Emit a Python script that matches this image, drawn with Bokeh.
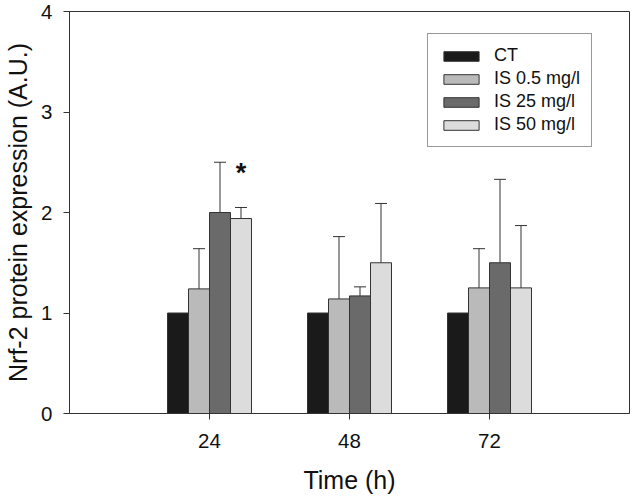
from bokeh.plotting import figure
from bokeh.models import ColumnDataSource, FixedTicker, Whisker, Range1d, Legend, LegendItem, Label
from bokeh.embed import file_html
from bokeh.resources import INLINE

# ---- data ----
times = [24, 48, 72]
series = ["CT", "IS 0.5 mg/l", "IS 25 mg/l", "IS 50 mg/l"]
means = {
    "CT":          [1.00, 1.00, 1.00],
    "IS 0.5 mg/l": [1.24, 1.14, 1.25],
    "IS 25 mg/l":  [2.00, 1.17, 1.50],
    "IS 50 mg/l":  [1.94, 1.50, 1.25],
}
errors = {
    "CT":          [0.00, 0.00, 0.00],
    "IS 0.5 mg/l": [0.40, 0.62, 0.39],
    "IS 25 mg/l":  [0.50, 0.09, 0.83],
    "IS 50 mg/l":  [0.11, 0.59, 0.62],
}
y_ticks = [0, 1, 2, 3, 4]
significant = [("IS 50 mg/l", 0)]  # (series, time index) marked with *

# ---- styles ----
colors = {"CT": "#1a1a1a", "IS 0.5 mg/l": "#bababa", "IS 25 mg/l": "#6a6a6a", "IS 50 mg/l": "#dcdcdc"}
FONT = "Liberation Sans"
EDGE = "#333333"
bar_w = 3.6
offsets = [-1.5 * bar_w, -0.5 * bar_w, 0.5 * bar_w, 1.5 * bar_w]

p = figure(width=632, height=499, output_backend="svg", toolbar_location=None,
           x_range=Range1d(0, 96), y_range=Range1d(0, 4),
           min_border_left=69, min_border_right=3, min_border_top=11, min_border_bottom=86)
p.grid.visible = False
p.outline_line_color = EDGE
p.outline_line_width = 1
p.background_fill_color = "white"
p.border_fill_color = "white"

items = []
for s, off in zip(series, offsets):
    xs = [t + off for t in times]
    top = means[s]
    upper = [m + e for m, e in zip(top, errors[s])]
    src = ColumnDataSource(dict(x=xs, top=top, upper=upper))
    r = p.vbar(x="x", top="top", width=bar_w, source=src, fill_color=colors[s],
               line_color=EDGE, line_width=1)
    items.append(LegendItem(label=s, renderers=[r]))
    if any(e > 0 for e in errors[s]):
        w = Whisker(base="x", lower="top", upper="upper", source=src, dimension="height",
                    line_color=EDGE, line_width=1)
        w.lower_head = None
        w.upper_head.size = 12
        w.upper_head.line_color = EDGE
        w.upper_head.line_width = 1
        p.add_layout(w)

for s, i in significant:
    xi = times[i] + offsets[series.index(s)]
    yi = means[s][i] + errors[s][i] + 0.34
    p.add_layout(Label(x=xi, y=yi, text="*", text_font=FONT, text_font_style="bold",
                       text_font_size="27px", text_align="center", text_baseline="alphabetic",
                       text_color="#111111"))

legend = Legend(items=items, location=(358, 266))
legend.label_text_font = FONT
legend.label_text_font_size = "18px"
legend.label_text_color = "#111111"
legend.glyph_width = 44
legend.glyph_height = 12
legend.padding = 11
legend.spacing = 2
legend.label_standoff = 11
legend.border_line_color = EDGE
legend.border_line_width = 1
legend.background_fill_alpha = 1
legend.margin = 0
p.add_layout(legend, "center")

# axes
p.xaxis.ticker = FixedTicker(ticks=times)
p.yaxis.ticker = FixedTicker(ticks=y_ticks)
p.xaxis.axis_label = "Time (h)"
p.yaxis.axis_label = "Nrf-2 protein expression (A.U.)"
for ax in (p.xaxis[0], p.yaxis[0]):
    ax.axis_line_color = EDGE
    ax.major_tick_line_color = EDGE
    ax.minor_tick_line_color = None
    ax.major_tick_in = 0
    ax.major_tick_out = 6
    ax.axis_label_text_font = FONT
    ax.axis_label_text_font_size = "25px"
    ax.axis_label_text_font_style = "normal"
    ax.axis_label_text_color = "#111111"
    ax.major_label_text_font = FONT
    ax.major_label_text_font_size = "20.5px"
    ax.major_label_text_color = "#111111"
p.xaxis.major_label_standoff = 14
p.xaxis.axis_label_standoff = 15
p.yaxis.major_label_standoff = 11
p.yaxis.axis_label_standoff = 6

open("out.html", "w").write(file_html(p, INLINE))
